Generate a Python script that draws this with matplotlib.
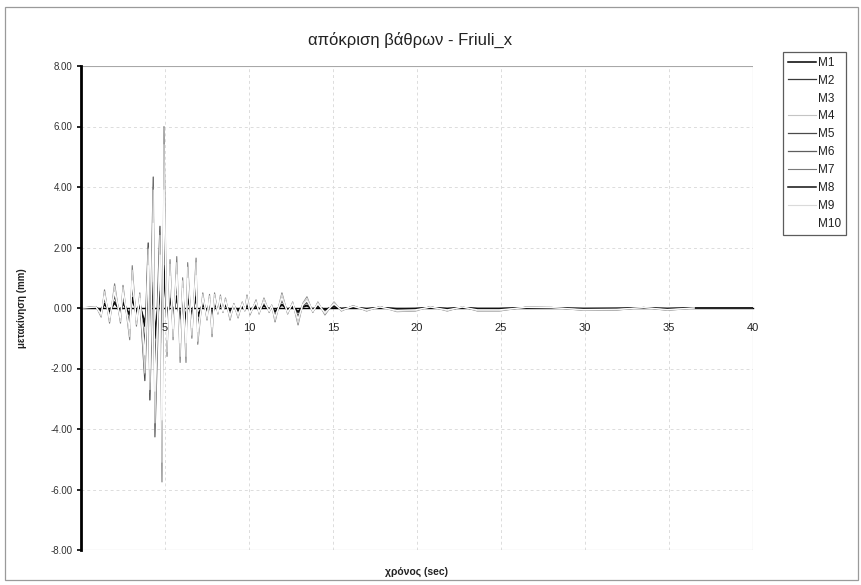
import matplotlib
matplotlib.use("Agg")
import matplotlib.pyplot as plt
from matplotlib.patches import Rectangle
from matplotlib.ticker import FixedLocator, FuncFormatter

plt.rcParams['font.family'] = ['Liberation Sans', 'DejaVu Sans']

# time instants (s) of the sampled response peaks
time_s = [0.0, 0.9, 1.2, 1.4, 1.7, 2.0, 2.35, 2.5, 2.9, 3.05,
          3.3, 3.5, 3.8, 4.0, 4.1, 4.3, 4.4, 4.7, 4.82, 4.94,
          5.12, 5.3, 5.48, 5.7, 5.9, 6.05, 6.25, 6.35, 6.6, 6.85,
          6.95, 7.25, 7.5, 7.65, 7.8, 7.95, 8.15, 8.3, 8.45, 8.6,
          8.87, 9.1, 9.35, 9.6, 9.75, 9.88, 10.06, 10.42, 10.6, 10.89,
          11.2, 11.35, 11.55, 11.96, 12.3, 12.6, 12.92, 13.2, 13.45, 13.8,
          14.1, 14.52, 15.06,
          15.5, 16.2, 17.0, 17.8, 18.8, 19.9, 20.8, 21.8, 22.7, 23.6,
          24.9, 26.5, 28.0, 29.9, 31.9, 33.5, 34.9, 36.5, 40.0]

# pier displacements (mm)
m1 = [0, 0.01, -0.08, 0.15, -0.12, 0.2, -0.12, 0.18, -0.25, 0.35,
      -0.15, 0.12, -0.6, 0.5, -0.75, 1.0, -1.0, 0.65, -1.3, 1.4,
      -0.4, 0.4, -0.25, 0.4, -0.45, 0.25, -0.45, 0.35, -0.25, 0.4,
      -0.3, 0.12, -0.1, 0.1, -0.25, 0.12, -0.05, 0.1, -0.04, 0.08,
      -0.1, 0.04, -0.08, 0.05, -0.03, 0.1, -0.06, 0.07, -0.05, 0.08,
      -0.04, 0.03, -0.12, 0.12, -0.05, 0.05, -0.14, 0.04, 0.09, -0.04,
      0.05, -0.06, 0.05,
      -0.02, 0.02, -0.03, 0.01, -0.03, -0.02, 0.01, -0.02, 0.01, -0.02,
      -0.02, 0.01, 0.0, -0.02, -0.02, 0.0, -0.02, 0, 0]
m2 = [0, 0.02, -0.15, 0.3, -0.25, 0.4, -0.3, 0.35, -0.5, 0.7,
      -0.3, 0.25, -1.2, 2.15, -3.04, 2.0, -2.1, 1.3, -2.6, 2.9,
      -0.8, 0.75, -0.5, 0.85, -0.9, 0.5, -0.85, 0.7, -0.5, 0.8,
      -0.6, 0.25, -0.2, 0.22, -0.5, 0.25, -0.1, 0.2, -0.07, 0.16,
      -0.2, 0.07, -0.16, 0.1, -0.05, 0.2, -0.12, 0.13, -0.1, 0.16,
      -0.07, 0.05, -0.23, 0.25, -0.1, 0.1, -0.28, 0.07, 0.18, -0.07,
      0.1, -0.12, 0.1,
      -0.05, 0.04, -0.05, 0.02, -0.06, -0.05, 0.02, -0.05, 0.02, -0.05,
      -0.05, 0.01, 0.01, -0.04, -0.03, 0.01, -0.04, 0, 0]
m3 = [0, 0.03, -0.2, 0.42, -0.35, 0.55, -0.35, 0.5, -0.75, 1.0,
      -0.42, 0.35, -1.7, 1.5, -2.1, 3.0, -3.0, 1.9, -4.0, 4.2,
      -1.1, 1.1, -0.75, 1.2, -1.25, 0.7, -1.25, 1.05, -0.7, 1.15,
      -0.85, 0.35, -0.28, 0.3, -0.65, 0.35, -0.14, 0.3, -0.1, 0.23,
      -0.28, 0.1, -0.23, 0.14, -0.07, 0.3, -0.16, 0.19, -0.14, 0.23,
      -0.1, 0.07, -0.32, 0.35, -0.14, 0.14, -0.39, 0.1, 0.26, -0.1,
      0.14, -0.16, 0.14,
      -0.07, 0.05, -0.07, 0.03, -0.08, -0.07, 0.03, -0.07, 0.03, -0.07,
      -0.07, 0.02, 0.01, -0.05, -0.05, 0.01, -0.05, 0.0]
m4 = [0, 0.04, -0.25, 0.5, -0.4, 0.65, -0.42, 0.6, -0.85, 1.15,
      -0.5, 0.4, -1.95, 1.75, -2.45, 3.5, -3.45, 2.2, -4.6, 4.8,
      -1.3, 1.3, -0.85, 1.4, -1.45, 0.8, -1.45, 1.2, -0.8, 1.3,
      -0.95, 0.4, -0.32, 0.36, -0.75, 0.4, -0.16, 0.35, -0.12, 0.27,
      -0.32, 0.12, -0.27, 0.16, -0.08, 0.35, -0.19, 0.22, -0.16, 0.27,
      -0.12, 0.08, -0.37, 0.4, -0.16, 0.16, -0.45, 0.12, 0.3, -0.12,
      0.16, -0.19, 0.16,
      -0.08, 0.06, -0.08, 0.04, -0.1, -0.08, 0.04, -0.08, 0.03, -0.08,
      -0.08, 0.02, 0.02, -0.06, -0.06, 0.02, -0.06, 0, 0]
m5 = [0, 0.03, -0.17, 0.33, -0.28, 0.45, -0.28, 0.42, -0.6, 0.8,
      -0.33, 0.28, -2.4, 1.2, -1.7, 2.4, -2.35, 2.7, -3.2, 3.3,
      -0.9, 0.9, -0.6, 0.95, -1.0, 0.55, -1.0, 0.85, -0.55, 0.9,
      -0.65, 0.28, -0.22, 0.25, -0.52, 0.28, -0.11, 0.24, -0.08, 0.18,
      -0.22, 0.08, -0.18, 0.11, -0.06, 0.24, -0.13, 0.15, -0.11, 0.18,
      -0.08, 0.06, -0.25, 0.28, -0.11, 0.11, -0.3, 0.08, 0.2, -0.08,
      0.11, -0.13, 0.11,
      -0.05, 0.04, -0.06, 0.03, -0.07, -0.06, 0.03, -0.06, 0.02, -0.06,
      -0.06, 0.02, 0.01, -0.04, -0.04, 0.01, -0.04, 0, 0]
m6 = [0, 0.03, -0.18, 0.36, -0.3, 0.48, -0.3, 0.45, -0.63, 0.85,
      -0.36, 0.3, -1.45, 1.3, -1.8, 4.33, -4.26, 1.6, -3.5, 3.6,
      -0.95, 0.95, -0.63, 1.0, -1.1, 0.6, -1.1, 0.9, -0.6, 1.0,
      -0.72, 0.3, -0.24, 0.27, -0.57, 0.3, -0.12, 0.26, -0.09, 0.2,
      -0.24, 0.09, -0.2, 0.12, -0.06, 0.26, -0.14, 0.16, -0.12, 0.2,
      -0.09, 0.06, -0.28, 0.3, -0.12, 0.12, -0.34, 0.09, 0.22, -0.09,
      0.12, -0.14, 0.12,
      -0.06, 0.05, -0.06, 0.03, -0.07, -0.06, 0.03, -0.06, 0.02, -0.06,
      -0.06, 0.02, 0.01, -0.05, -0.04, 0.01, -0.05, 0, 0]
m7 = [0, 0.05, -0.3, 0.6, -0.5, 0.8, -0.5, 0.75, -1.05, 1.4,
      -0.6, 0.5, -2.2, 2.0, -2.8, 4.0, -3.9, 2.5, -5.75, 6.0,
      -1.6, 1.6, -1.05, 1.7, -1.8, 1.0, -1.8, 1.5, -1.0, 1.65,
      -1.2, 0.5, -0.4, 0.45, -0.95, 0.5, -0.2, 0.43, -0.15, 0.33,
      -0.4, 0.15, -0.33, 0.2, -0.1, 0.43, -0.23, 0.27, -0.2, 0.33,
      -0.15, 0.1, -0.46, 0.5, -0.2, 0.2, -0.56, 0.15, 0.37, -0.15,
      0.2, -0.23, 0.2,
      -0.1, 0.08, -0.1, 0.05, -0.12, -0.1, 0.05, -0.1, 0.04, -0.1,
      -0.1, 0.03, 0.02, -0.08, -0.07, 0.02, -0.08, 0, 0]
m8 = [0, 0.01, -0.06, 0.12, -0.1, 0.16, -0.1, 0.15, -0.2, 0.28,
      -0.12, 0.1, -0.48, 0.43, -0.6, 0.85, -0.85, 0.55, -1.15, 1.2,
      -0.32, 0.32, -0.2, 0.34, -0.36, 0.2, -0.36, 0.3, -0.2, 0.33,
      -0.24, 0.1, -0.08, 0.09, -0.2, 0.1, -0.04, 0.08, -0.03, 0.07,
      -0.08, 0.03, -0.07, 0.04, -0.02, 0.08, -0.05, 0.05, -0.04, 0.07,
      -0.03, 0.02, -0.1, 0.1, -0.04, 0.04, -0.12, 0.03, 0.07, -0.03,
      0.04, -0.05, 0.04,
      -0.02, 0.01, -0.02, 0.01, -0.02, -0.02, 0.01, -0.02, 0.01, -0.02,
      -0.02, 0.0, 0.0, -0.02, -0.01, 0.0, -0.02, 0, 0]
m9 = [0, 0.04, -0.27, 0.54, -0.45, 0.72, -0.45, 0.68, -0.95, 1.25,
      -0.54, 0.45, -2.15, 1.95, -2.7, 3.9, -3.8, 2.4, -5.1, 5.4,
      -1.45, 1.45, -0.95, 1.5, -1.6, 0.9, -1.6, 1.35, -0.9, 1.5,
      -1.1, 0.45, -0.36, 0.4, -0.85, 0.45, -0.18, 0.39, -0.13, 0.3,
      -0.36, 0.13, -0.3, 0.18, -0.09, 0.39, -0.2, 0.24, -0.18, 0.3,
      -0.13, 0.09, -0.41, 0.45, -0.18, 0.18, -0.5, 0.13, 0.33, -0.13,
      0.18, -0.2, 0.18,
      -0.09, 0.07, -0.09, 0.04, -0.11, -0.09, 0.04, -0.09, 0.04, -0.09,
      -0.09, 0.03, 0.02, -0.07, -0.06, 0.02, -0.07, 0]
m10 = [0, 0.03, -0.2, 0.4, -0.32, 0.52, -0.32, 0.5, -0.68, 0.9,
       -0.4, 0.32, -1.55, 1.4, -2.0, 2.8, -2.75, 1.75, -3.7, 3.9,
       -1.05, 1.05, -0.68, 1.1, -1.15, 0.65, -1.15, 0.98, -0.65, 1.07,
       -0.78, 0.32, -0.26, 0.3, -0.62, 0.32, -0.13, 0.28, -0.1, 0.21,
       -0.26, 0.1, -0.21, 0.13, -0.06, 0.28, -0.15, 0.18, -0.13, 0.21,
       -0.1, 0.06, -0.3, 0.32, -0.13, 0.13, -0.36, 0.1, 0.24, -0.1,
       0.13, -0.15, 0.13,
       -0.06, 0.05, -0.06, 0.03, -0.08, -0.06, 0.03, -0.06, 0.03, -0.06,
       -0.06, 0.02, 0.01, -0.05, -0.04, 0.01, -0.05, 0]

series_names = ["M1", "M2", "M3", "M4", "M5", "M6", "M7", "M8", "M9", "M10"]
series_values = [m1, m2, m3, m4, m5, m6, m7, m8, m9, m10]

line_colors = ["#000000", "#3a3a3a", "#ffffff", "#c4c4c4", "#4a4a4a",
               "#5e5e5e", "#7a7a7a", "#111111", "#dadada", "#ffffff"]
line_widths = [1.1, 0.9, 0.9, 0.8, 0.9, 0.9, 0.8, 1.1, 0.8, 0.9]

y_ticks = [-8, -6, -4, -2, 0, 2, 4, 6, 8]
x_ticks = [5, 10, 15, 20, 25, 30, 35, 40]

W, H = 862, 585
fig = plt.figure(figsize=(W / 100, H / 100), dpi=100)
fig.patch.set_facecolor("white")

# chart-area frame
fig.patches.append(Rectangle((5 / W, 1 - 580 / H), 853 / W, 573 / H,
                             transform=fig.transFigure, fill=False,
                             edgecolor="#9a9a9a", linewidth=0.9))

ax = fig.add_axes([81 / W, 1 - 550 / H, (753 - 81) / W, (550 - 66) / H])
ax.set_xlim(0, 40)
ax.set_ylim(-8, 8)

# gridlines
for xv in x_ticks[:-1]:
    ax.axvline(xv, color="#dcdcdc", lw=0.7, ls=(0, (3, 3)), zorder=0)
for yv in y_ticks[1:-1]:
    if yv != 0:
        ax.axhline(yv, color="#dcdcdc", lw=0.7, ls=(0, (3, 3)), zorder=0)

# plot-area border (top, right, bottom)
ax.axhline(8, color="#a8a8a8", lw=0.8, zorder=0)
ax.axhline(-8, color="#a8a8a8", lw=0.8, zorder=0)
ax.axvline(40, color="#a8a8a8", lw=0.8, zorder=0)

for s in ["top", "right"]:
    ax.spines[s].set_visible(False)
ax.spines["left"].set_linewidth(2.0)
ax.spines["left"].set_color("black")
ax.spines["bottom"].set_position(("data", 0))
ax.spines["bottom"].set_linewidth(1.0)
ax.spines["bottom"].set_zorder(1)

for name, vals, c, lw in zip(series_names, series_values, line_colors, line_widths):
    assert len(vals) in (len(time_s), len(time_s) - 1), (name, len(vals))
    ax.plot(time_s[:len(vals)], vals, color=c, lw=lw, label=name, zorder=2)

ax.yaxis.set_major_locator(FixedLocator(y_ticks))
ax.yaxis.set_major_formatter(FuncFormatter(lambda v, p: f"{v:.2f}"))
ax.xaxis.set_major_locator(FixedLocator(x_ticks))
ax.tick_params(axis="y", direction="out", length=3, width=1.2, pad=3,
               labelsize=7, labelcolor="#333333")
ax.tick_params(axis="x", length=0, pad=11, labelsize=8, labelcolor="#222222")
ax.xaxis.set_zorder(3)

fig.text(0.476, 1 - 40 / H, "απόκριση βάθρων - Friuli_x", ha="center",
         va="center", fontsize=12, color="#222222")
fig.text(417 / W, 1 - 572 / H, "χρόνος (sec)", ha="center", va="center",
         fontsize=7.5, fontweight="bold", color="#222222")
fig.text(22 / W, 1 - 308 / H, "μετακίνηση (mm)", ha="center", va="center",
         rotation=90, fontsize=7, fontweight="bold", color="#222222")

leg = fig.legend(loc="upper left", bbox_to_anchor=(783 / W, 1 - 52 / H),
                 fontsize=8.5, frameon=True, fancybox=False, edgecolor="#333333",
                 handlelength=2.4, handletextpad=0.2, labelspacing=0.5,
                 borderpad=0.4, borderaxespad=0)
leg.get_frame().set_linewidth(0.9)
for t in leg.get_texts():
    t.set_color("#222222")

fig.savefig("out.png", dpi=100, facecolor="white")
